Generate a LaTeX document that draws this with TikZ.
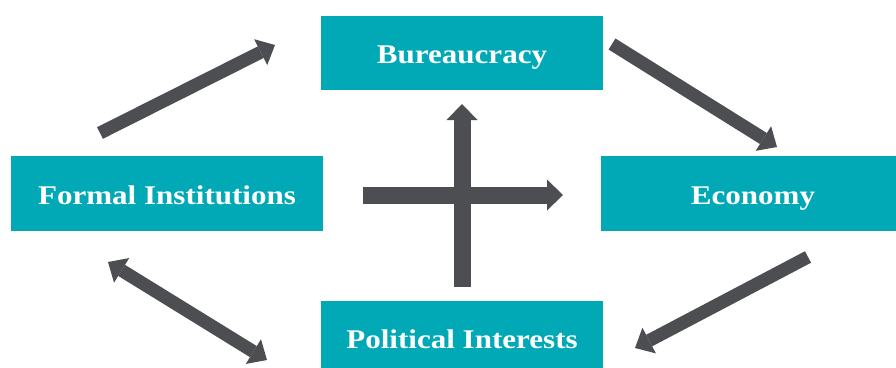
\documentclass[tikz,border=0pt]{standalone}
\usepackage{fontspec}
\setmainfont[FakeStretch=1.15]{Liberation Serif}
\usetikzlibrary{arrows.meta}
\definecolor{boxteal}{HTML}{00A9B5}
\definecolor{arrowgray}{HTML}{4D4E52}
\begin{document}
\begin{tikzpicture}[x=1pt,y=-1pt,
  box/.style={fill=boxteal, text=white, inner sep=0pt,
    font=\fontsize{27}{30}\selectfont\bfseries,
    text height=21pt, text depth=0pt},
  diagarrow/.style={draw=arrowgray, line width=13pt,
    -{Triangle[length=16pt,width=29pt,line width=0pt]}},
  diagboth/.style={draw=arrowgray, line width=13pt,
    {Triangle[length=16pt,width=29pt,line width=0pt]}-{Triangle[length=16pt,width=29pt,line width=0pt]}},
  bigarrow/.style={draw=arrowgray, line width=17pt,
    -{Triangle[length=16pt,width=31pt,line width=0pt]}}]
\useasboundingbox (0,0) rectangle (896,367);
\clip (0,0) rectangle (896,367);
\fill[white] (0,0) rectangle (896,367);

\node[box, minimum width=282pt, minimum height=74pt] (bur) at (462,53) {Bureaucracy};
\node[box, minimum width=312pt, minimum height=75pt] (fi) at (167,193.5) {Formal Institutions};
\node[box, minimum width=304pt, minimum height=75pt] (eco) at (753,193.5) {Economy};
\node[box, minimum width=282pt, minimum height=74pt] (pol) at (462,338) {Political Interests};

\coordinate (a1s) at (100,133);
\coordinate (a1e) at (275,45);
\coordinate (a2s) at (612,44);
\coordinate (a2e) at (777,147);
\coordinate (a3s) at (808,257);
\coordinate (a3e) at (635,348);
\coordinate (a4s) at (108,262);
\coordinate (a4e) at (267,360);
\coordinate (hs) at (363,195);
\coordinate (he) at (563,195);
\coordinate (vs) at (462,287);
\coordinate (ve) at (462,104);

\draw[diagarrow] (a1s) -- (a1e);
\draw[diagarrow] (a2s) -- (a2e);
\draw[diagarrow] (a3s) -- (a3e);
\draw[diagboth] (a4s) -- (a4e);
\draw[bigarrow] (hs) -- (he);
\draw[bigarrow] (vs) -- (ve);
\end{tikzpicture}
\end{document}
